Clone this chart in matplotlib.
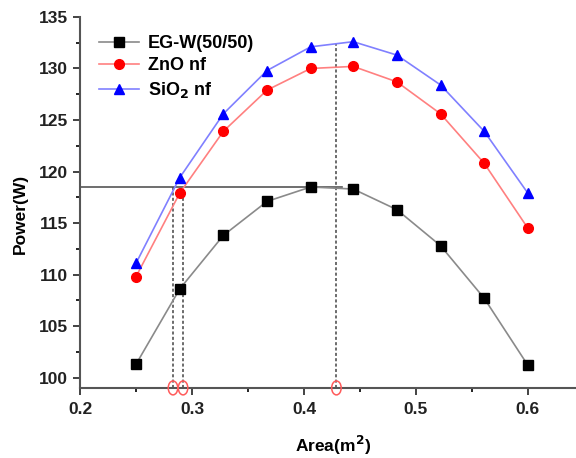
import matplotlib.pyplot as plt
from matplotlib.patches import Ellipse

plt.rcParams['font.family'] = ['Liberation Sans', 'DejaVu Sans']
plt.rcParams['font.weight'] = 'bold'

area = [0.25, 0.289, 0.328, 0.367, 0.406, 0.444, 0.483, 0.522, 0.561, 0.6]
egw = [101.3, 108.6, 113.8, 117.1, 118.5, 118.3, 116.3, 112.8, 107.7, 101.2]
zno = [109.8, 117.9, 123.9, 127.9, 130.0, 130.2, 128.7, 125.6, 120.8, 114.5]
sio2 = [111.1, 119.4, 125.6, 129.8, 132.1, 132.6, 131.3, 128.4, 123.9, 117.9]

# optimum areas marked on the x axis
opt_x = [0.283, 0.292, 0.429]
opt_top = [118.5, 118.0, 132.4]
egw_max = 118.5

fig = plt.figure(figsize=(5.76, 4.58), dpi=100)
ax = fig.add_axes([0.139, 0.153, 0.861, 0.81])

ax.plot(area, egw, color='#8a8a8a', lw=1.2, marker='s', ms=6.5,
        mfc='black', mec='black', label='EG-W(50/50)')
ax.plot(area, zno, color='#ff8080', lw=1.2, marker='o', ms=7,
        mfc='red', mec='red', label='ZnO nf')
ax.plot(area, sio2, color='#8080ff', lw=1.2, marker='^', ms=7.5,
        mfc='blue', mec='blue', label='SiO$_2$ nf')

ax.plot([0.2, 0.434], [egw_max, egw_max], color='#555555', lw=1.2, zorder=1)
for x, top in zip(opt_x, opt_top):
    ax.plot([x, x], [99, top], color='#444444', lw=1.1, ls=(0, (2, 1.5)), zorder=1)
    ax.add_patch(Ellipse((x, 99.0), 0.0085, 1.35, fill=False, ec='#ff5a5a',
                         lw=1.1, clip_on=False, zorder=5))

ax.set_xlim(0.2, 0.643)
ax.set_ylim(99, 135)
ax.set_xticks([0.2, 0.3, 0.4, 0.5, 0.6])
ax.set_xticks([0.25, 0.35, 0.45, 0.55], minor=True)
ax.set_yticks(range(100, 136, 5))
ax.set_yticks([102.5 + 5 * i for i in range(7)], minor=True)
ax.tick_params(which='major', direction='out', length=5, width=1.2, labelsize=12.5, colors='#222222')
ax.tick_params(axis='x', which='major', pad=5)
ax.tick_params(which='minor', direction='out', length=3, width=1.2)
for s in ['top', 'right']:
    ax.spines[s].set_visible(False)
for s in ['left', 'bottom']:
    ax.spines[s].set_linewidth(1.5)
    ax.spines[s].set_color('#555555')

ax.set_xlabel('Area(m$^2$)', fontsize=12.5, fontweight='bold')
ax.xaxis.set_label_coords(0.51, -0.125)
ax.set_ylabel('Power(W)', fontsize=12.5, fontweight='bold')
ax.yaxis.set_label_coords(-0.105, 0.47)

ax.legend(loc='upper left', bbox_to_anchor=(0.005, 0.995), frameon=False,
          fontsize=13, handlelength=2.2, labelspacing=0.3, handletextpad=0.5)

fig.savefig('out.png', dpi=100)
